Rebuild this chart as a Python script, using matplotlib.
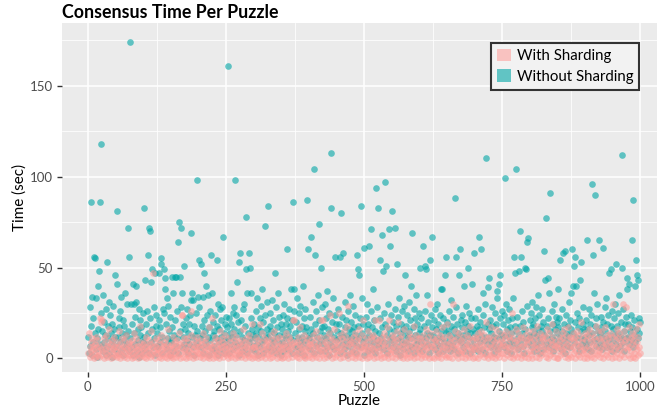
import numpy as np
import matplotlib.pyplot as plt
from matplotlib.patches import Patch

# Consensus time (sec) per puzzle, puzzle number = position in list (1..1000)
without_sharding = [
    12, 3, 28, 7, 86, 18, 2, 34, 9, 22, 56, 55, 14, 5, 33, 11, 1, 40, 16, 48, 8, 86, 25, 118, 6,
    15, 4, 35, 20, 9, 13, 2, 27, 53, 6, 18, 11, 31, 3, 24, 8, 14, 1, 19, 10, 29, 5, 16, 12, 46,
    7, 41, 81, 12, 3, 22, 17, 9, 26, 34, 5, 14, 21, 2, 10, 18, 36, 6, 13, 30, 8, 72, 15, 4, 56,
    174, 11, 30, 6, 19, 2, 41, 14, 30, 8, 23, 40, 31, 4, 16, 10, 27, 1, 13, 21, 7, 17, 3, 25, 9,
    83, 12, 5, 43, 19, 8, 26, 14, 57, 3, 72, 70, 22, 9, 42, 49, 16, 6, 28, 11, 47, 2, 18, 24, 7,
    14, 6, 21, 47, 9, 17, 55, 52, 3, 12, 27, 25, 49, 44, 38, 8, 19, 33, 5, 29, 11, 15, 2, 23, 10,
    9, 45, 17, 4, 36, 13, 45, 21, 7, 45, 11, 26, 64, 3, 75, 45, 15, 28, 72, 36, 6, 19, 12, 51, 8,
    16, 5, 22, 10, 27, 3, 14, 19, 8, 24, 32, 69, 36, 12, 32, 6, 18, 2, 13, 25, 9, 98, 15, 34, 7,
    28, 54, 11, 52, 6, 18, 13, 34, 3, 21, 47, 9, 15, 40, 7, 24, 12, 35, 2, 17, 10, 26, 57, 5, 36,
    13, 20, 7, 15, 4, 24, 11, 18, 54, 2, 30, 16, 9, 27, 5, 12, 21, 28, 8, 67, 14, 3, 19, 10, 23,
    6, 17, 11, 161, 22, 3, 14, 8, 19, 36, 12, 25, 5, 16, 28, 9, 98, 24, 13, 42, 7, 20, 2, 53, 58,
    15, 8, 21, 4, 12, 27, 10, 30, 6, 18, 78, 49, 36, 3, 14, 9, 58, 50, 11, 36, 22, 5, 16, 13, 7,
    19, 11, 4, 26, 14, 8, 33, 2, 17, 12, 22, 6, 29, 15, 9, 38, 3, 20, 10, 24, 73, 13, 5, 31, 16,
    12, 84, 7, 18, 25, 4, 15, 10, 32, 6, 21, 14, 9, 47, 3, 28, 17, 11, 36, 5, 23, 13, 8, 19, 2,
    16, 9, 24, 4, 13, 30, 7, 19, 11, 60, 22, 5, 15, 27, 8, 18, 12, 38, 3, 21, 86, 10, 26, 38, 6,
    14, 20, 7, 33, 11, 3, 25, 16, 9, 29, 5, 18, 12, 40, 8, 22, 2, 15, 27, 10, 17, 87, 60, 6, 13,
    11, 23, 5, 16, 67, 9, 31, 14, 3, 104, 19, 57, 7, 26, 12, 35, 8, 74, 21, 4, 15, 50, 10, 28, 17,
    8, 18, 13, 30, 4, 22, 11, 37, 6, 16, 25, 2, 14, 9, 113, 83, 20, 7, 33, 12, 5, 24, 56, 10, 19,
    15, 6, 27, 11, 19, 3, 56, 14, 80, 8, 23, 12, 58, 5, 17, 31, 9, 21, 2, 13, 26, 7, 16, 35, 10,
    12, 20, 4, 15, 29, 8, 17, 10, 24, 3, 13, 57, 7, 49, 18, 11, 46, 22, 6, 84, 14, 33, 9, 19, 2,
    61, 11, 23, 7, 16, 30, 4, 19, 13, 62, 9, 26, 71, 5, 17, 12, 38, 8, 21, 3, 15, 94, 10, 28, 6,
    83, 14, 8, 22, 54, 11, 17, 68, 5, 48, 25, 9, 19, 97, 51, 3, 13, 30, 7, 71, 16, 62, 10, 24, 81,
    12, 6, 20, 15, 9, 72, 27, 4, 18, 52, 11, 23, 7, 33, 14, 2, 19, 10, 26, 5, 16, 29, 8, 46, 13,
    18, 9, 24, 12, 4, 31, 15, 7, 21, 11, 40, 69, 6, 17, 27, 3, 13, 22, 8, 35, 10, 19, 5, 14, 25,
    16, 50, 9, 22, 12, 4, 62, 18, 7, 51, 26, 11, 49, 14, 35, 8, 20, 3, 54, 13, 24, 6, 17, 67, 10,
    13, 21, 5, 27, 10, 16, 8, 30, 3, 19, 12, 24, 7, 15, 38, 38, 11, 22, 4, 17, 9, 46, 14, 56, 6,
    20, 8, 15, 26, 11, 4, 18, 32, 7, 13, 23, 9, 16, 5, 88, 28, 56, 12, 19, 3, 14, 10, 46, 60, 21,
    9, 17, 24, 6, 13, 40, 11, 20, 4, 29, 15, 8, 50, 18, 12, 25, 3, 14, 22, 7, 41, 10, 16, 58, 5,
    14, 22, 7, 18, 11, 27, 4, 67, 16, 9, 20, 60, 13, 5, 24, 36, 10, 17, 3, 30, 12, 110, 8, 19, 39,
    16, 44, 10, 21, 6, 14, 28, 9, 18, 3, 12, 25, 7, 19, 11, 33, 37, 5, 41, 15, 22, 46, 8, 13, 26,
    11, 19, 6, 24, 99, 13, 8, 30, 16, 4, 21, 12, 27, 9, 17, 3, 14, 22, 7, 33, 10, 56, 47, 18, 104,
    15, 8, 23, 12, 5, 48, 18, 70, 10, 56, 26, 14, 7, 20, 3, 16, 50, 49, 11, 29, 64, 9, 66, 13, 21,
    12, 25, 7, 17, 31, 10, 19, 4, 14, 22, 8, 28, 13, 6, 35, 16, 11, 24, 3, 18, 9, 27, 15, 5, 20,
    13, 59, 43, 77, 8, 18, 11, 44, 22, 36, 6, 91, 15, 9, 26, 12, 4, 19, 30, 10, 16, 7, 23, 14, 20,
    17, 38, 9, 22, 12, 54, 5, 15, 27, 8, 58, 19, 11, 3, 59, 14, 24, 7, 18, 10, 31, 13, 6, 21, 16,
    36, 60, 14, 40, 9, 51, 20, 56, 40, 12, 25, 7, 17, 4, 22, 11, 43, 15, 53, 8, 19, 28, 10, 16, 6,
    12, 21, 8, 65, 16, 5, 27, 13, 9, 19, 24, 4, 96, 14, 57, 10, 36, 18, 90, 7, 22, 11, 30, 15, 6,
    65, 14, 9, 23, 17, 5, 12, 61, 20, 8, 28, 15, 11, 33, 6, 19, 24, 10, 47, 13, 7, 49, 18, 26, 4,
    16, 10, 22, 13, 30, 8, 52, 18, 5, 25, 14, 11, 35, 7, 20, 12, 112, 50, 9, 27, 15, 4, 19, 23, 11,
    44, 38, 12, 19, 8, 41, 15, 24, 10, 17, 65, 6, 87, 21, 13, 9, 40, 54, 46, 16, 11, 43, 22, 14, 20,
]

with_sharding = [
    3, 14, 6, 1, 9, 4, 11, 2, 7, 5, 0, 8, 3, 12, 1, 6, 10, 2, 4, 7, 1, 22, 5, 20, 21,
    2, 8, 4, 0, 11, 5, 13, 3, 1, 7, 9, 2, 6, 16, 4, 0, 8, 3, 10, 5, 1, 7, 12, 2, 6,
    4, 1, 9, 6, 2, 15, 3, 8, 0, 5, 11, 2, 7, 4, 1, 10, 6, 3, 13, 0, 5, 8, 2, 9, 4,
    7, 2, 5, 0, 10, 3, 8, 1, 14, 6, 4, 2, 11, 5, 0, 7, 3, 9, 1, 18, 4, 6, 2, 8, 5,
    1, 9, 3, 6, 0, 12, 4, 7, 2, 5, 10, 1, 8, 3, 15, 6, 2, 47, 4, 9, 0, 7, 11, 3, 5,
    6, 3, 10, 1, 8, 4, 0, 13, 5, 2, 7, 9, 3, 1, 6, 11, 4, 0, 8, 2, 16, 5, 3, 7, 1,
    2, 8, 5, 12, 0, 6, 3, 9, 1, 4, 10, 7, 2, 5, 14, 0, 8, 3, 6, 24, 24, 1, 9, 4, 11,
    5, 0, 7, 3, 11, 2, 9, 4, 1, 6, 13, 26, 3, 8, 0, 5, 10, 2, 7, 4, 1, 12, 6, 3, 9,
    3, 7, 1, 10, 5, 2, 8, 0, 14, 4, 6, 9, 3, 11, 1, 7, 5, 2, 17, 0, 8, 4, 6, 3, 22,
    0, 6, 9, 2, 4, 12, 1, 7, 3, 10, 5, 0, 8, 15, 2, 6, 4, 11, 1, 9, 3, 7, 5, 13, 2,
    8, 3, 5, 0, 11, 6, 2, 9, 4, 1, 7, 14, 3, 10, 5, 0, 8, 2, 12, 6, 4, 1, 9, 3, 7,
    4, 10, 1, 7, 3, 16, 5, 2, 9, 0, 6, 11, 4, 8, 2, 13, 1, 7, 3, 10, 5, 0, 19, 6, 2,
    6, 1, 8, 4, 12, 2, 7, 0, 10, 5, 3, 19, 9, 1, 6, 14, 4, 2, 11, 7, 0, 8, 5, 3, 10,
    2, 9, 5, 0, 7, 13, 3, 10, 1, 6, 4, 8, 15, 2, 11, 5, 0, 9, 3, 7, 12, 4, 1, 6, 8,
    5, 0, 11, 3, 8, 1, 6, 14, 4, 9, 2, 7, 0, 12, 5, 3, 10, 6, 1, 8, 21, 4, 9, 21, 2,
    7, 3, 9, 1, 5, 12, 0, 8, 4, 17, 6, 2, 10, 3, 7, 1, 13, 5, 0, 9, 4, 11, 2, 6, 8,
    1, 8, 4, 10, 6, 0, 13, 3, 9, 2, 7, 5, 15, 1, 11, 4, 8, 0, 6, 12, 3, 21, 5, 9, 2,
    21, 5, 0, 9, 3, 12, 6, 1, 8, 4, 14, 2, 7, 24, 10, 5, 0, 11, 3, 8, 16, 6, 1, 9, 4,
    6, 2, 10, 25, 4, 13, 0, 8, 5, 11, 3, 7, 1, 15, 9, 4, 12, 2, 6, 18, 0, 29, 8, 3, 10,
    3, 9, 6, 1, 12, 4, 8, 0, 14, 5, 2, 10, 7, 3, 11, 1, 16, 6, 4, 9, 0, 13, 5, 21, 7,
    8, 2, 11, 5, 0, 9, 4, 15, 1, 7, 3, 12, 6, 10, 2, 5, 13, 0, 8, 21, 4, 11, 6, 1, 9,
    4, 10, 21, 2, 7, 0, 12, 5, 9, 3, 14, 1, 8, 6, 11, 2, 17, 4, 0, 21, 7, 3, 10, 5, 13,
    1, 7, 4, 12, 9, 3, 0, 10, 6, 15, 2, 20, 5, 8, 1, 11, 4, 13, 7, 0, 9, 3, 16, 6, 2,
    9, 5, 0, 11, 3, 8, 14, 1, 6, 4, 12, 2, 10, 7, 18, 0, 5, 9, 3, 13, 1, 6, 11, 4, 8,
    3, 11, 6, 0, 9, 2, 13, 7, 4, 10, 1, 16, 5, 8, 2, 12, 6, 0, 14, 30, 4, 9, 1, 7, 11,
    6, 0, 10, 4, 8, 15, 2, 11, 5, 1, 9, 3, 13, 7, 0, 17, 4, 10, 6, 2, 12, 8, 1, 5, 19,
    2, 8, 5, 13, 1, 9, 4, 11, 7, 0, 30, 6, 3, 10, 15, 2, 8, 5, 12, 0, 7, 4, 14, 9, 3,
    10, 4, 1, 7, 12, 3, 16, 6, 0, 9, 5, 13, 2, 8, 11, 1, 6, 18, 4, 10, 3, 7, 0, 12, 5,
    7, 1, 11, 5, 9, 0, 14, 4, 8, 2, 12, 6, 15, 3, 10, 7, 1, 13, 5, 9, 2, 20, 6, 0, 11,
    4, 12, 2, 8, 6, 17, 1, 10, 3, 13, 7, 0, 9, 5, 16, 2, 11, 4, 8, 1, 14, 6, 3, 10, 7,
    9, 3, 13, 0, 7, 11, 5, 15, 2, 8, 4, 12, 6, 1, 10, 3, 14, 25, 7, 0, 11, 5, 9, 2, 16,
    5, 10, 1, 8, 14, 3, 11, 6, 0, 12, 7, 2, 17, 4, 9, 1, 13, 6, 10, 3, 8, 15, 0, 11, 4,
    12, 2, 9, 6, 0, 15, 4, 10, 7, 13, 1, 8, 5, 18, 3, 11, 6, 0, 14, 9, 2, 12, 7, 4, 10,
    3, 13, 7, 1, 11, 5, 16, 0, 9, 4, 14, 6, 2, 10, 8, 19, 3, 12, 5, 1, 9, 7, 15, 0, 6,
    8, 0, 12, 4, 10, 2, 7, 14, 5, 11, 3, 9, 16, 1, 6, 13, 4, 8, 0, 17, 10, 2, 7, 12, 5,
    1, 11, 6, 14, 3, 9, 0, 12, 8, 4, 15, 2, 10, 6, 13, 1, 7, 20, 4, 9, 3, 11, 5, 0, 14,
    6, 3, 10, 0, 13, 7, 2, 16, 5, 11, 1, 9, 4, 14, 8, 0, 12, 6, 3, 18, 10, 2, 7, 15, 4,
    11, 5, 1, 9, 15, 3, 12, 7, 0, 10, 6, 17, 2, 8, 13, 4, 11, 1, 9, 5, 14, 7, 3, 12, 0,
    30, 8, 4, 13, 1, 10, 6, 16, 3, 11, 7, 0, 14, 5, 9, 2, 12, 8, 30, 4, 15, 1, 10, 6, 28,
    5, 12, 2, 9, 17, 6, 0, 11, 4, 14, 8, 1, 10, 3, 13, 7, 0, 16, 5, 9, 2, 12, 6, 19, 3,
]

x_ticks = [0, 250, 500, 750, 1000]
y_ticks = [0, 50, 100, 150]
series_names = ['With Sharding', 'Without Sharding']

pink = '#FF9C98'
teal = '#00A6A6'


def main():
    plt.rcParams['font.family'] = ['Lato', 'DejaVu Sans']

    fig = plt.figure(figsize=(6.59, 4.09), dpi=100)
    ax = fig.add_axes([0.094, 0.0905, 0.903, 0.853])
    ax.set_facecolor('#EBEBEB')

    puzzles_wo = np.arange(1, len(without_sharding) + 1)
    puzzles_w = np.arange(1, len(with_sharding) + 1)

    # teal first, pink drawn over it like the reference
    ax.scatter(puzzles_wo, without_sharding, s=23, color=teal, alpha=0.6, linewidths=0, zorder=3)
    ax.scatter(puzzles_w, with_sharding, s=23, color=pink, alpha=0.55, linewidths=0, zorder=4)

    ax.set_xlim(-47, 1031)
    ax.set_ylim(-7.5, 184.5)
    ax.set_xticks(x_ticks)
    ax.set_yticks(y_ticks)
    ax.set_xticks([125, 375, 625, 875], minor=True)
    ax.set_yticks([25, 75, 125, 175], minor=True)
    ax.grid(which='major', color='white', linewidth=1.1, zorder=0)
    ax.grid(which='minor', color='white', linewidth=0.55, zorder=0)
    ax.set_axisbelow(True)
    for s in ax.spines.values():
        s.set_visible(False)
    ax.tick_params(which='major', length=3.5, width=1, color='#333333',
                   labelcolor='#4D4D4D', labelsize=9.5, pad=3)
    ax.tick_params(which='minor', length=0)

    ax.set_xlabel('Puzzle', fontsize=11, color='black', labelpad=1)
    ax.set_ylabel('Time (sec)', fontsize=11, color='black', labelpad=2)

    fig.text(62 / 659, 1 - 12 / 409, 'Consensus Time Per Puzzle', fontsize=12.8,
             fontweight='bold', ha='left', va='center')

    handles = [Patch(facecolor=pink, alpha=0.55, edgecolor='none'),
               Patch(facecolor=teal, alpha=0.6, edgecolor='none')]
    leg = ax.legend(handles, series_names, loc='upper right', bbox_to_anchor=(0.970, 0.943),
                    fontsize=10.8, frameon=True, fancybox=False, handlelength=0.9,
                    handleheight=0.9, handletextpad=0.4, borderpad=0.4, labelspacing=0.4,
                    borderaxespad=0)
    leg.get_frame().set_edgecolor('#333333')
    leg.get_frame().set_linewidth(1.5)
    leg.get_frame().set_facecolor('#F2F2F2')
    leg.get_frame().set_alpha(1)

    fig.savefig('out.png', dpi=100)


if __name__ == '__main__':
    main()
